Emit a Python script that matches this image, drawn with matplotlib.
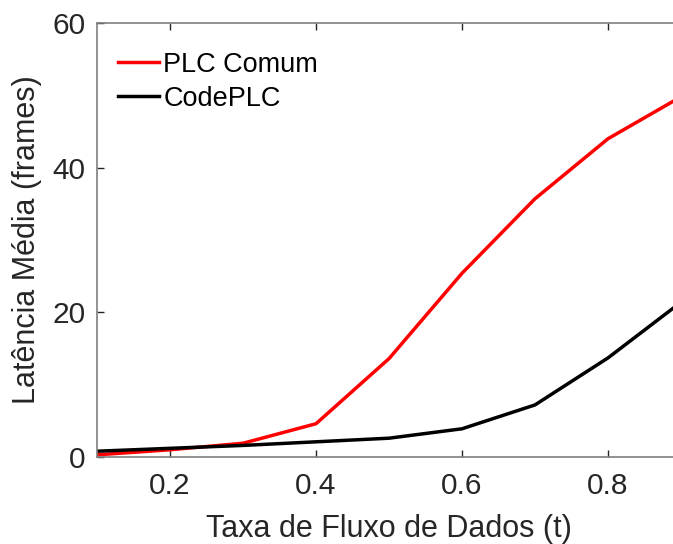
import numpy as np
import matplotlib.pyplot as plt

plt.rcParams['font.family'] = ['Liberation Sans', 'DejaVu Sans']

taxa = [0.1, 0.2, 0.3, 0.4, 0.5, 0.6, 0.7, 0.8, 0.9]
plc_comum = [0.3, 1.0, 1.9, 4.6, 13.6, 25.4, 35.7, 44.0, 49.8]
code_plc = [0.8, 1.2, 1.6, 2.1, 2.6, 3.9, 7.2, 13.7, 21.4]

W, H = 673, 544
fig = plt.figure(figsize=(W / 100, H / 100), dpi=100)
# axes run past the right edge, so the last part of the curves is cut off
ax = fig.add_axes([97 / W, (H - 457) / H, 584 / W, 434 / H])

ax.plot(taxa, plc_comum, color='#ff0000', lw=2.5, label='PLC Comum')
ax.plot(taxa, code_plc, color='black', lw=2.5, label='CodePLC')

ax.set_xlim(0.1, 0.9)
ax.set_ylim(0, 60)
ax.set_xticks([0.2, 0.4, 0.6, 0.8])
ax.set_xticklabels(['0.2', '0.4', '0.6', '0.8'])
ax.set_yticks([0, 20, 40, 60])

grey = '#262626'
for s in ax.spines.values():
    s.set_color('#7f7f7f')
    s.set_linewidth(1.2)
ax.tick_params(direction='in', length=5, width=1, color='#262626',
               labelsize=21.5, labelcolor=grey, top=True, right=True)
ax.tick_params(axis='y', pad=8.5)
ax.tick_params(axis='x', pad=11)

ax.set_xlabel('Taxa de Fluxo de Dados (t)', fontsize=22, color=grey, labelpad=10)
ax.set_ylabel('Latência Média (frames)', fontsize=22, color=grey, labelpad=7)

ax.legend(loc='upper left', frameon=False, fontsize=19.5, handlelength=1.5,
          handletextpad=0.15, labelspacing=0.3, borderaxespad=0.5,
          bbox_to_anchor=(-0.005, 0.99))

fig.savefig('out.png', dpi=100)
